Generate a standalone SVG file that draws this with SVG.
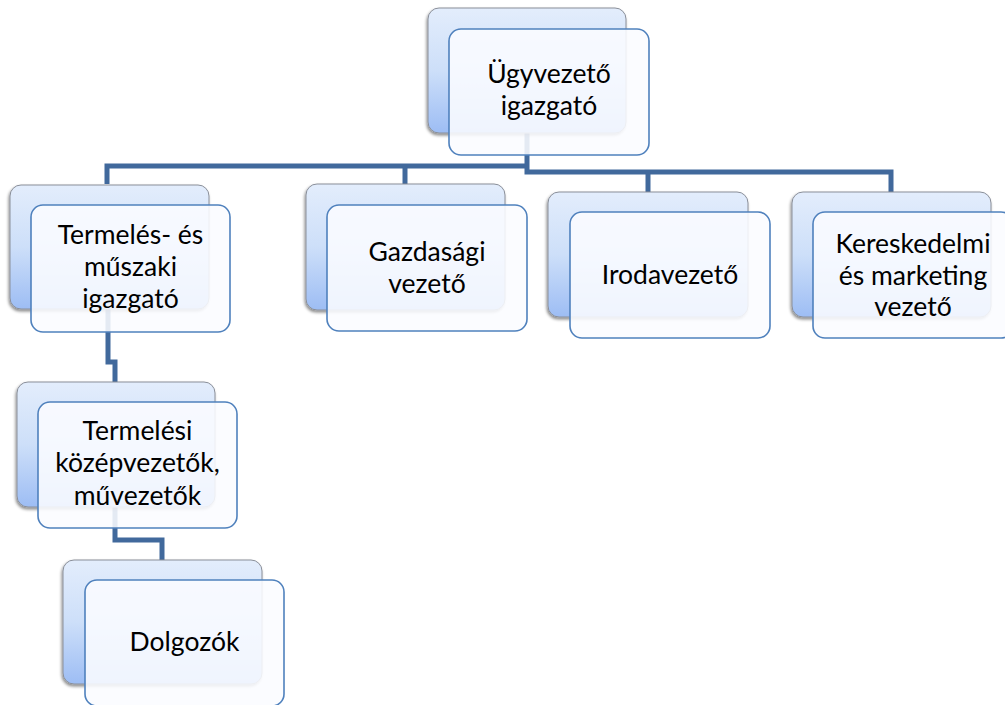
<svg xmlns="http://www.w3.org/2000/svg" width="1005" height="705" viewBox="0 0 1005 705">
<defs>
<linearGradient id="bg" x1="0" y1="0" x2="0" y2="1">
<stop offset="0" stop-color="#e3edfc"/>
<stop offset="0.5" stop-color="#cddff9"/>
<stop offset="1" stop-color="#9dbdf4"/>
</linearGradient>
<filter id="sh" x="-10%" y="-10%" width="120%" height="130%">
<feDropShadow dx="-1" dy="2" stdDeviation="1.5" flood-color="#000" flood-opacity="0.45"/>
</filter>
</defs>
<style>
.back{fill:url(#bg);stroke:#8a8f99;stroke-width:1;filter:url(#sh)}
.front{fill:#fbfcff;fill-opacity:0.88;stroke:#4f81bd;stroke-width:1.6}
.conn{fill:none;stroke:#41699c;stroke-width:5;stroke-linejoin:miter}
text{font-family:Lato,"Open Sans","Liberation Sans",sans-serif;font-size:26.5px;fill:#000;text-anchor:middle}
</style>
<rect width="1005" height="705" fill="#fff"/>
<g id="connectors">
<path class="conn" d="M107,184 V166 H527"/>
<path class="conn" d="M405,166 V184"/>
<path class="conn" d="M527,133 V172 H891 V192"/>
<path class="conn" d="M648,172 V192"/>
<path class="conn" d="M108,309 V362 H115 V382"/>
<path class="conn" d="M115,507 V540 H162 V560"/>
</g>
<g id="n-ugyvezeto">
<rect class="back" x="428" y="8" width="198" height="125" rx="11"/>
<rect class="front" x="449" y="29" width="200" height="126" rx="12"/>
<text x="549" y="83">Ügyvezető</text>
<text x="549" y="115">igazgató</text>
</g>
<g id="n-termeles">
<rect class="back" x="10" y="185" width="199" height="124" rx="11"/>
<rect class="front" x="31" y="205" width="199" height="127" rx="12"/>
<text x="130.5" y="244">Termelés- és</text>
<text x="130.5" y="276">műszaki</text>
<text x="130.5" y="308">igazgató</text>
</g>
<g id="n-gazdasagi">
<rect class="back" x="306" y="184" width="199" height="126" rx="11"/>
<rect class="front" x="327" y="205" width="200" height="126" rx="12"/>
<text x="427" y="261">Gazdasági</text>
<text x="427" y="293">vezető</text>
</g>
<g id="n-iroda">
<rect class="back" x="548" y="192" width="200" height="125" rx="11"/>
<rect class="front" x="570" y="212" width="200" height="126" rx="12"/>
<text x="670" y="284">Irodavezető</text>
</g>
<g id="n-keresk">
<rect class="back" x="792" y="192" width="199" height="125" rx="11"/>
<rect class="front" x="813" y="212" width="200" height="126" rx="12"/>
<text x="913" y="253">Kereskedelmi</text>
<text x="913" y="285">és marketing</text>
<text x="913" y="316">vezető</text>
</g>
<g id="n-kozep">
<rect class="back" x="17" y="382" width="198" height="125" rx="11"/>
<rect class="front" x="38" y="402" width="199" height="126" rx="12"/>
<text x="137.5" y="440">Termelési</text>
<text x="137.5" y="472">középvezetők,</text>
<text x="137.5" y="505">művezetők</text>
</g>
<g id="n-dolgozok">
<rect class="back" x="63" y="560" width="199" height="124" rx="11"/>
<rect class="front" x="85" y="580" width="199" height="126" rx="12"/>
<text x="184.5" y="651">Dolgozók</text>
</g>
</svg>
